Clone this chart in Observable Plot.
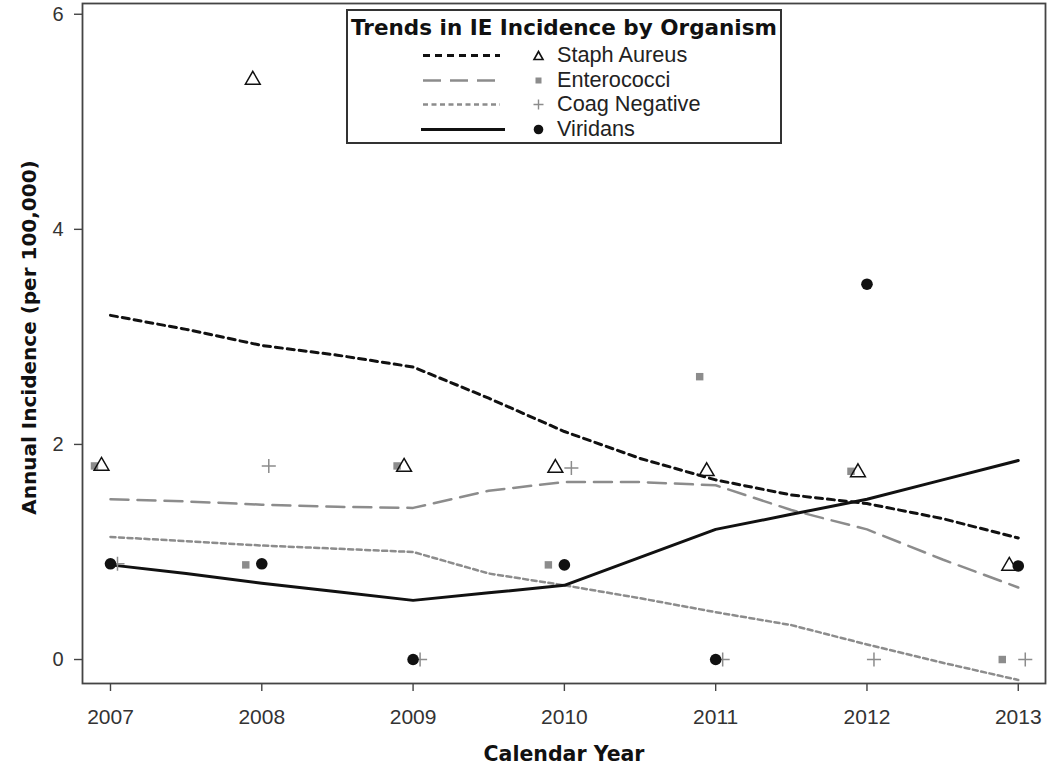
<!DOCTYPE html>
<html>
<head>
<meta charset="utf-8">
<script src="https://cdn.jsdelivr.net/npm/d3@7"></script>
<script src="https://cdn.jsdelivr.net/npm/@observablehq/plot@0.6"></script>
<style>
  body { margin: 0; background: #fff; font-family: "Liberation Sans", Arial, sans-serif; }
  #wrap { position: relative; width: 1050px; height: 767px; }
  #legend { position: absolute; left: 346px; top: 9px; width: 432px; height: 131px;
            border: 2px solid #333; background: #fff; }
  #legend .title { position: absolute; left: 0; right: 0; top: 4px; text-align: center;
            font-family: "DejaVu Sans", sans-serif; font-weight: bold; font-size: 21.5px; color: #111; }
  #legend .row { position: absolute; left: 0; height: 24px; width: 100%; }
  #legend .row span { position: absolute; left: 209px; top: -1px; font-size: 21.7px; color: #222; }
  #legend .row svg { position: absolute; left: 0; top: 0; }
</style>
</head>
<body>
<div id="wrap"><div id="legend"></div></div>
<script>
// ---- data ----
const years = [2007, 2008, 2009, 2010, 2011, 2012, 2013];
const staphAureus   = [1.80, 5.39, 1.79, 1.78, 1.75, 1.74, 0.87];
const enterococci   = [1.80, 0.88, 1.80, 0.88, 2.63, 1.75, 0.00];
const coagNegative  = [0.89, 1.80, 0.00, 1.78, 0.00, 0.00, 0.00];
const viridans      = [0.89, 0.89, 0.00, 0.88, 0.00, 3.49, 0.87];

const trendYears    = [2007, 2007.5, 2008, 2008.5, 2009, 2009.5, 2010, 2010.5, 2011, 2011.5, 2012, 2012.5, 2013];
const staphTrend    = [3.20, 3.07, 2.92, 2.83, 2.72, 2.43, 2.12, 1.87, 1.67, 1.53, 1.45, 1.31, 1.13];
const enteroTrend   = [1.49, 1.47, 1.44, 1.42, 1.41, 1.57, 1.65, 1.65, 1.62, 1.39, 1.21, 0.93, 0.67];
const coagTrend     = [1.14, 1.10, 1.06, 1.03, 1.00, 0.80, 0.69, 0.57, 0.44, 0.32, 0.14, -0.03, -0.19];
const viridansTrend = [0.88, 0.80, 0.71, 0.63, 0.55, 0.62, 0.69, 0.95, 1.21, 1.35, 1.49, 1.67, 1.85];

const seriesNames = ["Staph Aureus", "Enterococci", "Coag Negative", "Viridans"];
const yTicks = [0, 2, 4, 6];

// ---- styles ----
const lineStyles = {
  "Staph Aureus":  {stroke: "#111", strokeWidth: 3, strokeDasharray: "7,5"},
  "Enterococci":   {stroke: "#8c8c8c", strokeWidth: 2.5, strokeDasharray: "18,9"},
  "Coag Negative": {stroke: "#8c8c8c", strokeWidth: 2.5, strokeDasharray: "5,3.5"},
  "Viridans":      {stroke: "#111", strokeWidth: 3, strokeDasharray: null}
};

const pts = (vals) => years.map((y, i) => ({year: y, value: vals[i]}));
const trend = (vals) => trendYears.map((y, i) => ({year: y, value: vals[i]}));

const lineMark = (name, vals) => Plot.line(trend(vals), {
  x: "year", y: "value", curve: "linear",
  ...Object.fromEntries(Object.entries(lineStyles[name]).filter(([k, v]) => v != null))
});

const chart = Plot.plot({
  width: 1050, height: 767,
  marginLeft: 82, marginRight: 5, marginTop: 3, marginBottom: 84,
  style: {fontFamily: "'Liberation Sans', Arial, sans-serif", background: "#fff"},
  x: {domain: [2006.815, 2013.18], label: null},
  y: {domain: [-0.223, 6.1], label: null},
  marks: [
    Plot.frame({stroke: "#444", strokeWidth: 1.8}),
    Plot.axisX(years, {tickSize: 8, tickPadding: 18, tickFormat: d => String(d), fontSize: 21, fill: "#333", stroke: "#444", strokeWidth: 1.4, label: null}),
    Plot.axisY(yTicks, {tickSize: 8, tickPadding: 11, tickFormat: d => String(d), fontSize: 20, fill: "#333", stroke: "#444", strokeWidth: 1.4, label: null}),
    Plot.text(["Calendar Year"], {frameAnchor: "bottom", dy: 77, fontFamily: "'DejaVu Sans', sans-serif", fontSize: 20.5, fontWeight: "bold", fill: "#111"}),
    Plot.text(["Annual Incidence (per 100,000)"], {frameAnchor: "left", textAnchor: "middle", dx: -53, dy: -6, rotate: -90, fontFamily: "'DejaVu Sans', sans-serif", fontSize: 20, fontWeight: "bold", fill: "#111"}),
    lineMark("Staph Aureus", staphTrend),
    lineMark("Enterococci", enteroTrend),
    lineMark("Coag Negative", coagTrend),
    lineMark("Viridans", viridansTrend),
    Plot.dot(pts(enterococci), {x: "year", y: "value", symbol: "square", r: 4.2, fill: "#8c8c8c", dx: -16}),
    Plot.dot(pts(staphAureus), {x: "year", y: "value", symbol: "triangle", r: 5.5, fill: "none", stroke: "#111", strokeWidth: 1.5, dx: -9}),
    Plot.dot(pts(coagNegative), {x: "year", y: "value", symbol: "plus", r: 4.6, stroke: "#8c8c8c", strokeWidth: 1.5, dx: 7}),
    Plot.dot(pts(viridans), {x: "year", y: "value", symbol: "circle", r: 5.8, fill: "#111"})
  ]
});
document.getElementById("wrap").prepend(chart);

// ---- legend (HTML overlay) ----
const legend = document.getElementById("legend");
const t = document.createElement("div");
t.className = "title";
t.textContent = "Trends in IE Incidence by Organism";
legend.appendChild(t);
const markerSvg = {
  "Staph Aureus":  `<path d="M190.5,8.5 L195,16.5 L186,16.5 Z" fill="none" stroke="#111" stroke-width="1.6"/>`,
  "Enterococci":   `<rect x="187.5" y="9.5" width="6" height="6" fill="#8c8c8c"/>`,
  "Coag Negative": `<path d="M190.5,7.5 V17.5 M185.5,12.5 H195.5" stroke="#8c8c8c" stroke-width="1.4"/>`,
  "Viridans":      `<circle cx="190.5" cy="12.5" r="4.8" fill="#111"/>`
};
const rowTops = [32, 57, 81, 106];
seriesNames.forEach((name, i) => {
  const st = lineStyles[name];
  const row = document.createElement("div");
  row.className = "row";
  row.style.top = rowTops[i] + "px";
  row.innerHTML = `<svg width="210" height="24">
    <line x1="${name === "Viridans" ? 73 : 75}" x2="${name === "Viridans" ? 157 : 152}" y1="12.5" y2="12.5"
      stroke="${st.stroke}" stroke-width="${st.strokeWidth}" ${st.strokeDasharray ? `stroke-dasharray="${st.strokeDasharray}"` : ""}/>
    ${markerSvg[name]}
  </svg><span>${name}</span>`;
  legend.appendChild(row);
});
</script>
</body>
</html>
